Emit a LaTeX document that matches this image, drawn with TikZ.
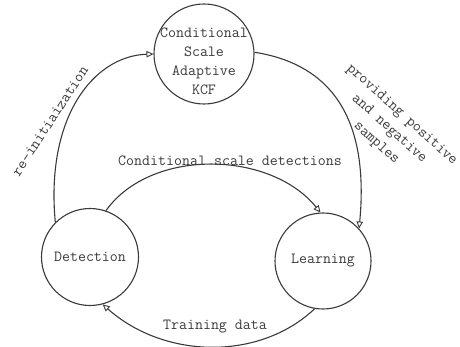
\documentclass[tikz,border=0pt]{standalone}
\usetikzlibrary{arrows.meta}
\definecolor{ink}{HTML}{3A3A3A}
\begin{document}
\begin{tikzpicture}[x=1pt,y=-1pt,
  every node/.style={font=\ttfamily\fontsize{15.5}{19}\selectfont, text=ink},
  state/.style={circle, draw=ink, line width=1.1pt, inner sep=0pt},
  flow/.style={draw=ink, line width=1.1pt,
    -{Triangle[open, length=7pt, width=6.5pt, line width=0.9pt]}},
  lbl/.style={inner sep=1pt}]
  \useasboundingbox (0,0) rectangle (460,347);

  % the three states of the tracker
  \node[state, minimum size=100pt] (top) at (204,54) {};
  \node[align=center, yshift=-7pt] (toptext) at (top.center)
    {Conditional\\Scale\\Adaptive\\KCF};
  \node[state, minimum size=97pt] (det) at (90,257) {Detection};
  \node[state, minimum size=96pt] (lrn) at (323,261) {Learning};

  % transitions between the states
  \draw[flow] (det.135) .. controls +(-10,-105) and +(-60,2) .. (top.180);
  \draw[flow] (top.2) .. controls +(95,15) and +(8,-85) .. (lrn.42);
  \draw[flow] (det.71) .. controls +(45,-63) and +(-50,-62) .. (lrn.93);
  \draw[flow] (lrn.260) .. controls +(-55,52) and +(62,55) .. (det.285);

  % transition labels
  \node[lbl, rotate=57] (reinit) at (50,121) {re-initiaization};
  \node[lbl, rotate=-42, align=center] (samples) at (389,129)
    {providing positive\\and negative\\samples};
  \node[lbl] (scale) at (230,161) {Conditional scale detections};
  \node[lbl] (train) at (215,327) {Training data};
\end{tikzpicture}
\end{document}
